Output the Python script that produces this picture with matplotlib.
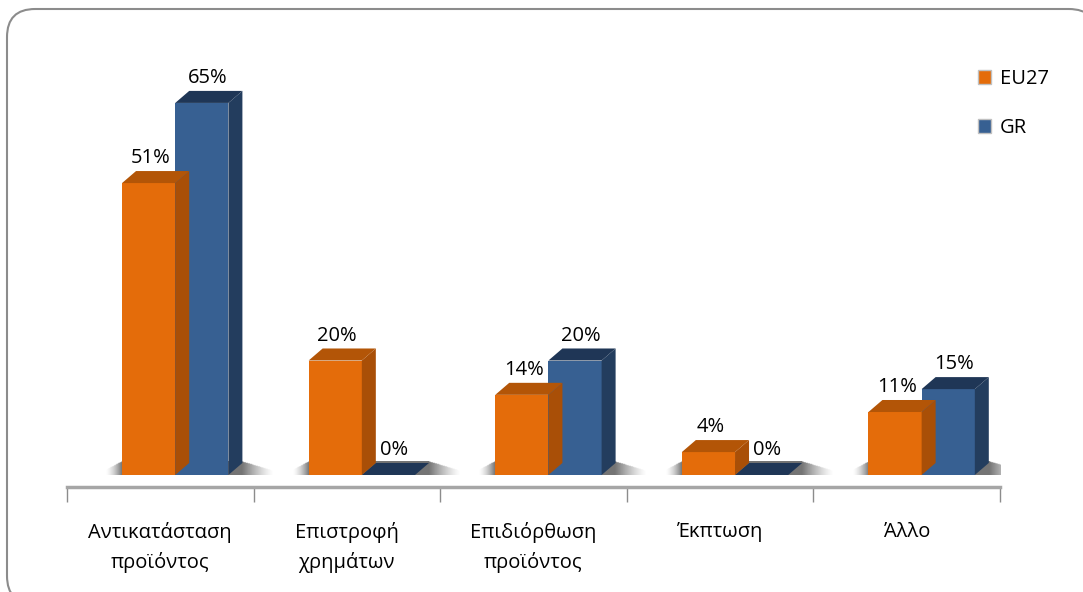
import matplotlib
matplotlib.use("Agg")
import numpy as np
import matplotlib.pyplot as plt
from matplotlib.patches import Polygon, Rectangle, FancyBboxPatch, Patch

plt.rcParams['font.family'] = ['Open Sans', 'DejaVu Sans']

categories = ['Αντικατάσταση\nπροϊόντος', 'Επιστροφή\nχρημάτων', 'Επιδιόρθωση\nπροϊόντος',
              'Έκπτωση', 'Άλλο']
eu27 = [51, 20, 14, 4, 11]
gr = [65, 0, 20, 0, 15]
series_names = ['EU27', 'GR']

# colours: front, side, top
orange = ('#E46C0A', '#A94F07', '#B35507')
blue = ('#376092', '#233D5E', '#1F3656')

W = 1083
H = 592
fig = plt.figure(figsize=(W / 100, H / 100), dpi=100)

# rounded frame around the chart (runs past the right and bottom edges)
frame = FancyBboxPatch((7 / W, -12 / H), 1090 / W, (H - 9 + 12) / H,
                       boxstyle='round,pad=0,rounding_size=0.026',
                       transform=fig.transFigure, facecolor='white',
                       edgecolor='#8C8C8C', linewidth=1.5, mutation_aspect=W / H,
                       zorder=-5)
fig.patches.append(frame)

ax = fig.add_axes([67 / W, (H - 487) / H, 933 / W, 427 / H])
ax.set_facecolor('none')

bw = 0.285          # bar width
off = 0.08          # shift of the bar pair inside each category
dx, dy = 0.075, 2.1  # depth of the 3D faces


def shadow(x0, x1):
    # soft floor shadow around a group of bars, fading out to both sides
    left, right = x0 - 0.09, x1 + dx + 0.17
    nx, ny = 240, 24
    xs = np.linspace(left, right, nx)
    ys = np.linspace(0, 1, ny)[:, None]
    a = np.ones((ny, nx))
    lf = np.clip((xs - left) / (x0 - left), 0, 1)[None, :]
    rf = np.clip(1 - (xs - x1 - dx) / (right - x1 - dx), 0, 1)[None, :]
    # wedge shape: the faded ends keep only the lower part of the band
    a = np.where(xs[None, :] < x0, lf ** 1.6 * (ys < 0.35 + 0.65 * lf), a)
    a = np.where(xs[None, :] > x1 + dx, rf ** 1.3 * (ys < 0.3 + 0.7 * rf), a)
    rgba = np.zeros((ny, nx, 4))
    rgba[..., :3] = 0.3
    rgba[..., 3] = a * 0.78
    ax.imshow(rgba, extent=(left, right, 0, dy + 0.3), origin='lower',
              aspect='auto', interpolation='bilinear', zorder=1)


def bar3d(x, h, cols):
    front, side, top = cols
    if h > 0:
        ax.add_patch(Rectangle((x, 0), bw, h, facecolor=front, edgecolor='none', zorder=3))
        ax.add_patch(Polygon([(x + bw, 0), (x + bw + dx, dy), (x + bw + dx, h + dy), (x + bw, h)],
                             closed=True, facecolor=side, edgecolor='none', zorder=3))
    ax.add_patch(Polygon([(x, h), (x + bw, h), (x + bw + dx, h + dy), (x + dx, h + dy)],
                         closed=True, facecolor=top, edgecolor='none', zorder=3))


for i in range(len(categories)):
    xo = i + off - bw
    xb = i + off
    shadow(xo, xb + bw)
    # blue first so the orange bar sits in front of it
    bar3d(xb, gr[i], blue)
    bar3d(xo, eu27[i], orange)
    ax.text(xo + bw / 2 + 0.01, eu27[i] + dy + 0.5, f'{eu27[i]}%', ha='center', va='bottom',
            fontsize=14.5, color='black', zorder=5)
    ax.text(xb + bw / 2 + 0.03, gr[i] + dy + 0.5, f'{gr[i]}%', ha='center', va='bottom',
            fontsize=14.5, color='black', zorder=5)

ax.set_xlim(-0.5, 4.5)
ax.set_ylim(-2.1, 72.5)

# axis line and category separators
for s in ['top', 'right', 'left']:
    ax.spines[s].set_visible(False)
ax.spines['bottom'].set_color('#A6A6A6')
ax.spines['bottom'].set_linewidth(2.5)
ax.set_yticks([])
ax.set_xticks([i - 0.5 for i in range(len(categories) + 1)], minor=True)
ax.tick_params(axis='x', which='minor', length=11, width=1, color='#8C8C8C')
ax.set_xticks(range(len(categories)))
ax.set_xticklabels(categories, fontsize=14.5, linespacing=1.55)
ax.tick_params(axis='x', which='major', length=0, pad=25)
for lbl in ax.get_xticklabels():
    lbl.set_verticalalignment('top')

handles = [Patch(facecolor=orange[0], edgecolor='#C0C0C0'),
           Patch(facecolor=blue[0], edgecolor='#C0C0C0')]
fig.legend(handles, series_names, loc='upper left', bbox_to_anchor=(968 / W, 1 - 59 / H),
           frameon=False, fontsize=14.5, handlelength=0.65, handleheight=0.65,
           handletextpad=0.45, labelspacing=1.45, borderpad=0)

fig.savefig('out.png', dpi=100)
